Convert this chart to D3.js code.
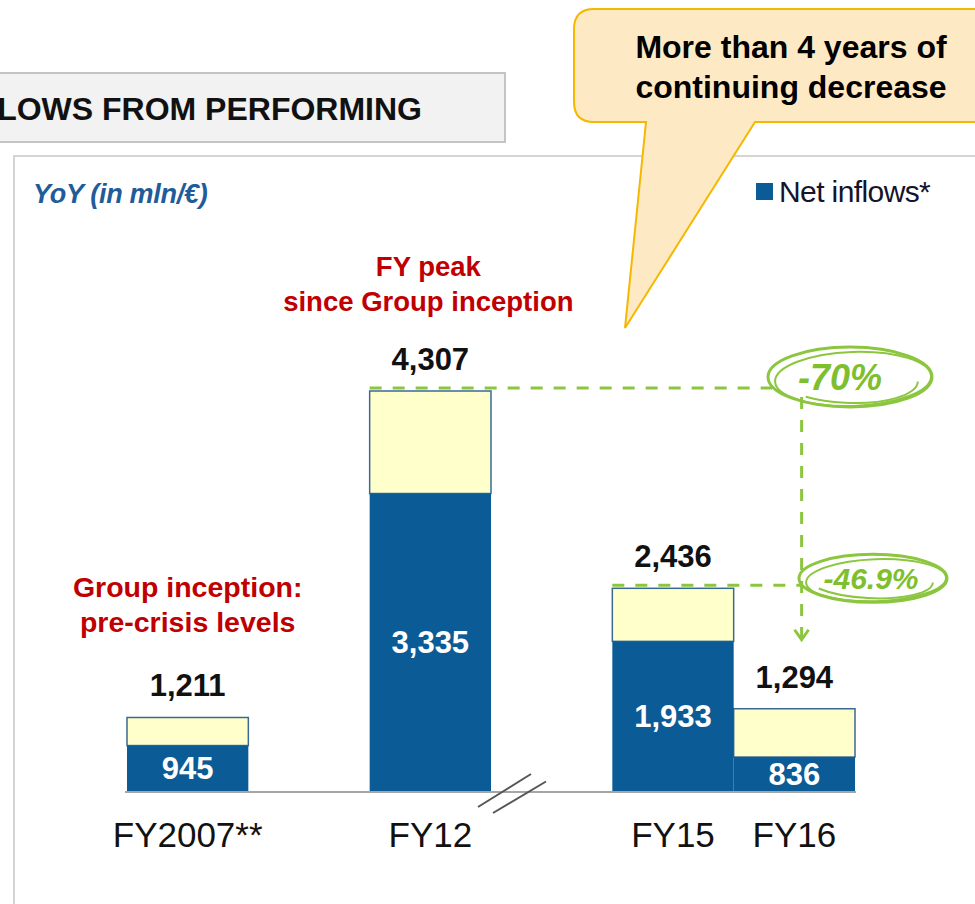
<!DOCTYPE html>
<html>
<head>
<meta charset="utf-8" />
<title>Net inflows from performing</title>
<style>
  body { margin: 0; background: #fff; }
  svg { display: block; font-family: "Liberation Sans", Arial, sans-serif; }
</style>
</head>
<body>
<div id="chart"></div>
<script src="https://cdn.jsdelivr.net/npm/d3@7"></script>
<script>
// values (mln EUR)
const categories = ["FY2007**", "FY12", "FY15", "FY16"]
const netInflows = [945, 3335, 1933, 836]
const totals = [1211, 4307, 2436, 1294]
// slot layout of the x axis: empty keys are the gaps between years
const slots = ["FY2007**", "gap1", "FY12", "gap2", "FY15", "FY16"]

const W = 975, H = 904
const blue = "#0b5b96", cream = "#ffffcc", green = "#8cc63f", red = "#c00000"

const svg = d3.select("#chart").append("svg").attr("width", W).attr("height", H)

// x: band per slot, y: truncated linear scale like the original slide
const x = d3.scaleBand().domain(slots).range([127, 855]).padding(0)
const y = d3.scaleLinear().domain([514, 4307]).range([791, 391])

const fmt = d3.format(",")
const pct = d3.formatLocale({decimal: ".", thousands: ",", grouping: [3], currency: ["", ""], minus: "-"})

// title strip (cut at the left edge, as on the slide)
svg.append("rect").attr("x", -10).attr("y", 73).attr("width", 515).attr("height", 69)
  .attr("fill", "#f2f2f2").attr("stroke", "#c4c4c4").attr("stroke-width", 2)
svg.append("text").attr("x", 422).attr("y", 120).attr("text-anchor", "end")
  .attr("font-size", 32).attr("font-weight", "bold").attr("fill", "#111")
  .text("NET INFLOWS FROM PERFORMING")

// chart panel
svg.append("rect").attr("x", 14).attr("y", 156).attr("width", 1000).attr("height", 800)
  .attr("fill", "#fff").attr("stroke", "#d4d4d4").attr("stroke-width", 2)

svg.append("text").attr("x", 33).attr("y", 203)
  .attr("font-size", 27).attr("font-weight", "bold").attr("font-style", "italic")
  .attr("fill", "#1f5c99").attr("letter-spacing", -0.3).text("YoY (in mln/€)")

// legend
svg.append("rect").attr("x", 756).attr("y", 183).attr("width", 17).attr("height", 17).attr("fill", blue)
svg.append("text").attr("x", 779).attr("y", 202).attr("font-size", 30).attr("letter-spacing", -0.6)
  .attr("fill", "#14142a").text("Net inflows*")

// bars
const rows = categories.map((c, i) => ({cat: c, net: netInflows[i], total: totals[i]}))
const g = svg.append("g")

g.selectAll("rect.total").data(rows).join("rect").attr("class", "total")
  .attr("x", d => x(d.cat)).attr("width", x.bandwidth())
  .attr("y", d => y(d.total)).attr("height", d => y(d.net) - y(d.total))
  .attr("fill", cream).attr("stroke", "#3a6a94").attr("stroke-width", 1.5)

g.selectAll("rect.net").data(rows).join("rect").attr("class", "net")
  .attr("x", d => x(d.cat)).attr("width", x.bandwidth())
  .attr("y", d => y(d.net)).attr("height", d => y(y.domain()[0]) - y(d.net))
  .attr("fill", blue)

g.selectAll("text.net").data(rows).join("text").attr("class", "net")
  .attr("x", d => x(d.cat) + x.bandwidth() / 2)
  .attr("y", d => (y(d.net) + y(y.domain()[0])) / 2 + 11)
  .attr("text-anchor", "middle").attr("font-size", 31).attr("font-weight", "bold")
  .attr("fill", "#fff").text(d => fmt(d.net))

g.selectAll("text.total").data(rows).join("text").attr("class", "total")
  .attr("x", d => x(d.cat) + x.bandwidth() / 2)
  .attr("y", d => y(d.total) - 21)
  .attr("text-anchor", "middle").attr("font-size", 31).attr("font-weight", "bold")
  .attr("fill", "#111").text(d => fmt(d.total))

// baseline + axis labels
svg.append("line").attr("x1", 125).attr("x2", 856).attr("y1", y(514) + 1).attr("y2", y(514) + 1)
  .attr("stroke", "#a6a6a6").attr("stroke-width", 2)
svg.selectAll("text.cat").data(categories).join("text").attr("class", "cat")
  .attr("x", d => x(d) + x.bandwidth() / 2).attr("y", 847)
  .attr("text-anchor", "middle").attr("font-size", 35).attr("fill", "#111").text(d => d)

// axis break marks
const brk = x("gap2")
;[0, 15].forEach(dx => {
  svg.append("line").attr("x1", brk - 13 + dx).attr("y1", 807 + dx * 0.4)
    .attr("x2", brk + 40 + dx).attr("y2", 774 + dx * 0.5)
    .attr("stroke", "#555").attr("stroke-width", 2)
})

// red notes
function note(lines, cx, y0, fs) {
  const t = svg.append("text").attr("text-anchor", "middle").attr("font-size", fs)
    .attr("font-weight", "bold").attr("fill", red)
  lines.forEach((s, i) => t.append("tspan").attr("x", cx).attr("y", y0 + i * 35).text(s))
}
note(["FY peak", "since Group inception"], x("FY12") + x.bandwidth() / 2 - 2, 276, 27.5)
note(["Group inception:", "pre-crisis levels"], x("FY2007**") + x.bandwidth() / 2, 597, 28.5)

// green dashed guides
const vx = x("FY16") + x.bandwidth() * 0.56
const dash = "12,11"
svg.append("line").attr("x1", x("FY12")).attr("x2", 772)
  .attr("y1", y(totals[1]) - 3).attr("y2", y(totals[1]) - 3)
  .attr("stroke", green).attr("stroke-width", 3).attr("stroke-dasharray", dash)
svg.append("line").attr("x1", x("FY15")).attr("x2", vx)
  .attr("y1", y(totals[2]) - 3).attr("y2", y(totals[2]) - 3)
  .attr("stroke", green).attr("stroke-width", 3).attr("stroke-dasharray", dash)
const tipY = y(totals[3]) - 69
svg.append("line").attr("x1", vx).attr("x2", vx).attr("y1", y(totals[1]) + 6).attr("y2", tipY - 2)
  .attr("stroke", green).attr("stroke-width", 3).attr("stroke-dasharray", dash)
svg.append("path").attr("d", `M${vx - 7},${tipY - 10}L${vx},${tipY}L${vx + 7},${tipY - 10}`)
  .attr("fill", "none").attr("stroke", green).attr("stroke-width", 3)

// scribbled ellipses with the drops
const drops = [
  {label: pct.format(".0%")(totals[3] / totals[1] - 1), cx: 850, cy: y(totals[1]) - 14, rx: 82, ry: 30, fs: 36, tx: 840},
  {label: pct.format(".1%")(totals[3] / totals[2] - 1), cx: 873, cy: y(totals[2]) - 10, rx: 74, ry: 24, fs: 30, tx: 871}
]
drops.forEach(d => {
  const eg = svg.append("g").attr("fill", "none").attr("stroke", green)
  eg.append("ellipse").attr("cx", d.cx).attr("cy", d.cy).attr("rx", d.rx).attr("ry", d.ry).attr("stroke-width", 3)
  eg.append("ellipse").attr("cx", d.cx + 3).attr("cy", d.cy + 2).attr("rx", d.rx - 4).attr("ry", d.ry - 3)
    .attr("stroke-width", 2).attr("transform", `rotate(-2,${d.cx},${d.cy})`)
  eg.append("ellipse").attr("cx", d.cx - 4).attr("cy", d.cy + 1).attr("rx", d.rx - 10).attr("ry", d.ry - 5)
    .attr("stroke-width", 2).attr("transform", `rotate(3,${d.cx},${d.cy})`).attr("stroke-dasharray", "120,400")
  svg.append("text").attr("x", d.tx).attr("y", d.cy + d.fs * 0.36).attr("text-anchor", "middle")
    .attr("font-size", d.fs).attr("font-weight", "bold").attr("font-style", "italic")
    .attr("fill", "#7fbf2e").text(d.label)
})

// callout bubble
const r = 20, bx = 574, by = 9, bb = 122
const bubble = `M${bx + r},${by} L1010,${by} L1010,${bb} L755,${bb} L625,328 L646,${bb} L${bx + r},${bb}
  Q${bx},${bb} ${bx},${bb - r} L${bx},${by + r} Q${bx},${by} ${bx + r},${by} Z`
svg.append("path").attr("d", bubble).attr("fill", "#fde9c4").attr("stroke", "#f5b800").attr("stroke-width", 2)
const ct = svg.append("text").attr("text-anchor", "middle").attr("font-size", 32)
  .attr("font-weight", "bold").attr("fill", "#000")
;["More than 4 years of", "continuing decrease"].forEach((s, i) =>
  ct.append("tspan").attr("x", 791).attr("y", 58 + i * 40).text(s))
</script>
</body>
</html>
